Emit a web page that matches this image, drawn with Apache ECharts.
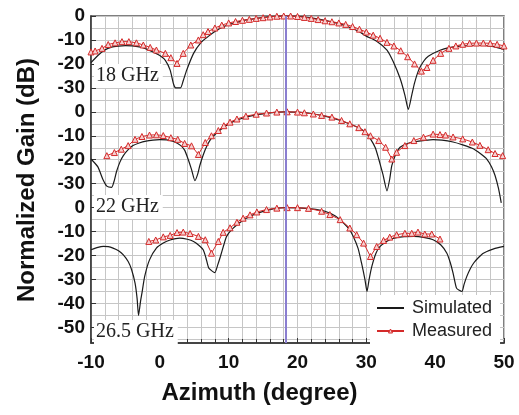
<!DOCTYPE html>
<html>
<head>
<meta charset="utf-8">
<script src="https://cdn.jsdelivr.net/npm/echarts@6/dist/echarts.min.js"></script>
<style>
html,body{margin:0;padding:0;background:#fff;}
#chart{width:519px;height:415px;}
</style>
</head>
<body>
<div id="chart"></div>
<script>
// ---- Data (dB values per panel, azimuth in degrees) ----
const panelNames = ['18 GHz', '22 GHz', '26.5 GHz'];
const panelOffsets = [80, 40, 0]; // vertical stacking offset of each panel

const sim18 = [[-10,-19.5],[-9,-16.5],[-8,-14.2],[-7,-13],[-6,-12.6],[-5,-12.4],[-4,-12.5],[-3,-12.9],[-2,-13.7],[-1,-15],[0,-16.5],[0.8,-18.5],[1.5,-22.6],[2,-28.5],[2.3,-30],[3,-30],[3.4,-27],[3.9,-22.6],[4.9,-15.6],[6,-11],[7,-8.6],[8,-6.5],[9,-4.8],[10,-3.6],[12,-2],[14,-1],[16,-0.3],[18,0],[20,-0.1],[22,-0.8],[24,-1.8],[26,-3.2],[28,-5.2],[29,-6.6],[30,-8.4],[31.5,-10.5],[33,-14.2],[33.9,-19],[34.9,-26],[35.6,-33],[36.1,-39],[36.6,-33],[37,-28],[37.6,-22.6],[38.3,-19],[39,-16.8],[40.7,-14.3],[42,-13.2],[43.6,-12.6],[46,-12.2],[48.5,-12.8],[50,-14]];
const meas18 = [[-10,-15],[-9.4,-14.6],[-8.4,-13.5],[-7.5,-11.9],[-6.5,-11.2],[-5.5,-10.7],[-4.5,-10.7],[-3.4,-11.2],[-2.4,-12.1],[-1.4,-13.1],[-0.5,-14.2],[0.8,-15.6],[1.6,-17.4],[2.5,-19.8],[3.4,-15.6],[4.5,-12.1],[5.6,-10],[6.3,-7.8],[7,-6.5],[8,-5],[9,-3.8],[10,-2.9],[11,-2.3],[12,-1.8],[13,-1.4],[14,-1],[15,-0.7],[16,-0.4],[17,-0.1],[18,0],[19,0],[20,-0.2],[21,-0.6],[22,-1],[23,-1.5],[24,-2],[25,-2.4],[26,-2.9],[27,-3.5],[28,-4.4],[29,-5.5],[30,-6.7],[31,-8],[32,-9.3],[33,-11],[34,-12.5],[35,-14.5],[36,-17],[37,-20],[38,-23],[38.8,-21.5],[39.7,-18.5],[40.8,-15.6],[42,-13.5],[43,-12.5],[44,-11.8],[45,-11.4],[46,-11.3],[47,-11.3],[48,-11.4],[49,-11.8],[50,-12.5]];

const sim22 = [[-10,-19.7],[-9,-23],[-8.3,-28],[-7.7,-31],[-7,-31.5],[-6.6,-28.5],[-6.3,-25],[-5.8,-21],[-5.3,-18.3],[-4.5,-15.5],[-3.9,-14.1],[-3,-13],[-2,-12.2],[-1,-11.8],[0,-11.6],[1,-11.7],[2,-12.4],[3,-14],[3.6,-16],[4.1,-19.7],[4.6,-24],[5.1,-28.7],[5.5,-26],[5.8,-22.5],[6.3,-18],[6.8,-14.5],[7.5,-11],[8.5,-8.2],[9.5,-6],[10.5,-4.3],[12,-2.7],[14,-1.3],[16,-0.4],[18,0],[20,-0.1],[22,-0.7],[24,-1.8],[26,-3.4],[27.5,-5],[29,-6.8],[30,-9],[30.6,-11.3],[31.3,-15],[31.8,-19.7],[32.4,-26],[33,-33],[33.4,-28],[33.7,-22.5],[34.3,-17.5],[34.9,-14.8],[36,-13.2],[37,-12.5],[38.5,-11.9],[39.7,-11.6],[41,-11.8],[42.6,-12.6],[44,-13.8],[45.6,-15.5],[46.6,-17.5],[47.5,-19.7],[48.2,-23],[48.7,-26.6],[49.2,-32],[49.6,-38]];
const meas22 = [[-7.7,-18.3],[-6.6,-17],[-5.6,-15.6],[-4.6,-14.1],[-3.6,-11.5],[-2.6,-10.3],[-1.5,-9.7],[-0.5,-9.6],[0.5,-9.9],[1.6,-10.8],[2.6,-11.5],[3.6,-13.2],[4.6,-14.2],[5.6,-17.8],[6.6,-12.8],[7.5,-10],[8.5,-7.8],[9.3,-5.8],[10.2,-4.3],[11.2,-3],[12.5,-1.8],[14,-1],[15.5,-0.5],[17,-0.1],[18.5,0],[20,-0.1],[21,-0.4],[22.3,-0.9],[23.5,-1.5],[25,-2.2],[26.4,-3.6],[27.6,-5],[28.9,-6.6],[29.8,-8.3],[30.6,-10],[31.8,-12],[32.8,-14.8],[33.7,-19.7],[34.4,-16.9],[35.6,-14.1],[36.9,-12],[38.3,-10.6],[39.7,-9.3],[40.7,-9.5],[41.5,-9.7],[42.6,-10.5],[44,-11.3],[45.4,-12.6],[46.5,-14],[47.7,-15.8],[48.7,-17.4],[49.8,-18.3]];

const sim26 = [[-10,-17.6],[-9,-16.6],[-8.2,-16.2],[-7.5,-16.3],[-6.8,-16.9],[-6,-18],[-5.3,-19.7],[-4.6,-22.5],[-4.1,-25.9],[-3.6,-31.5],[-3.3,-38],[-3.1,-45],[-2.8,-39],[-2.6,-35.7],[-2.2,-28.7],[-1.5,-21.8],[-0.5,-16.9],[0.5,-14.8],[1.5,-13.5],[2.9,-12.7],[4,-13.2],[4.9,-14.1],[5.7,-15.8],[6.3,-17.6],[6.7,-21],[7.1,-25.2],[7.6,-26.5],[8,-27.1],[8.4,-24],[8.8,-20.4],[9.3,-15.5],[9.7,-12],[10.5,-9],[11.5,-6.5],[12.5,-4.5],[14,-2.5],[16,-0.8],[18,0],[20,-0.1],[22,-0.5],[24,-1.5],[25.5,-3.5],[26.7,-6.4],[27.5,-9],[28.1,-12],[28.8,-17],[29.3,-23.1],[29.8,-30],[30.1,-35],[30.4,-30],[30.8,-24.5],[31.4,-19],[32,-16.2],[33,-14],[33.9,-12.8],[35.5,-12.1],[36.9,-12],[38.5,-12.5],[39.7,-13.4],[40.8,-15.5],[41.7,-19],[42.2,-23],[42.6,-27.3],[43.1,-33.6],[43.5,-34.5],[43.9,-35],[44.2,-32],[44.6,-28.7],[45.1,-25.5],[45.6,-23.1],[46.3,-20.8],[47,-19],[48.5,-17.2],[50,-16.2]];
const meas26 = [[-1.6,-14.1],[-0.6,-13.5],[0.5,-12.2],[1.5,-11.6],[2.5,-10.4],[3.4,-10.2],[4.4,-10.8],[5.6,-12],[6.6,-13.4],[7.5,-19],[8.5,-14.1],[9.2,-10.3],[10.2,-8.4],[11.2,-6.1],[12.1,-4.4],[13.1,-3],[14.1,-1.8],[15.5,-0.8],[17,-0.2],[18.5,0],[20,0],[21.6,-0.3],[23.5,-1.5],[24.7,-2.9],[26.2,-5],[27.6,-8.5],[28.6,-11.3],[29.6,-14.8],[30.6,-20.4],[31.5,-16.2],[32.5,-13.7],[33.4,-12.3],[34.4,-11.3],[35.6,-10.7],[36.6,-10.7],[37.5,-10.2],[38.5,-11],[39.5,-11],[40.7,-13.1]];

const beamAzimuth = 18.3;

// Tick values on the stacked axis and their displayed labels
const yTickVals   = [80, 70, 60, 50, 40, 30, 20, 10, 0, -10, -20, -30, -40, -50];
const yTickLabels = ['0','-10','-20','-30','0','-10','-20','-30','0','-10','-20','-30','-40','-50'];
const yGridVals   = [80,75,70,65,60,55,50,45,40,35,30,25,20,15,10,5,0,-5,-10,-15,-20,-25,-30,-35,-40,-45,-50,-55];

const simSets  = [sim18, sim22, sim26];
const measSets = [meas18, meas22, meas26];

function shift(arr, off) { return arr.map(p => [p[0], p[1] + off]); }

const chart = echarts.init(document.getElementById('chart'), null, {renderer: 'canvas'});

const series = [];
simSets.forEach((s, i) => {
  const ser = {
    name: 'Simulated', type: 'line', data: shift(s, panelOffsets[i]),
    symbol: 'none', smooth: 0.2, clip: false,
    lineStyle: {color: '#1a1a1a', width: 1.2}, itemStyle: {color: '#1a1a1a'},
    z: 3
  };
  if (i === 0) {
    ser.markLine = {
      symbol: ['none', 'none'], silent: true, label: {show: false},
      lineStyle: {color: '#8a7ed0', width: 2, type: 'solid'},
      data: [{xAxis: beamAzimuth}]
    };
  }
  series.push(ser);
});
measSets.forEach((s, i) => {
  series.push({
    name: 'Measured', type: 'line', data: shift(s, panelOffsets[i]),
    symbol: 'triangle', symbolSize: 6, clip: false,
    lineStyle: {color: '#d42a2a', width: 1},
    itemStyle: {color: '#f6d0d0', borderColor: '#d42a2a', borderWidth: 1},
    z: 4
  });
});

const labelTops = [76, 207, 332];

chart.setOption({
  animation: false,
  backgroundColor: '#fff',
  grid: {left: 91, right: 15, top: 16, bottom: 72, show: true, borderColor: '#555', borderWidth: 1.5, backgroundColor: 'transparent'},
  xAxis: {
    type: 'value', min: -10, max: 50, interval: 10,
    axisLine: {onZero: false, lineStyle: {color: '#333', width: 1.5}},
    axisTick: {inside: true, length: 5, lineStyle: {color: '#333'}},
    minorTick: {show: true, splitNumber: 5, length: 4, lineStyle: {color: '#333'}},
    splitLine: {show: true, lineStyle: {color: '#c6c6c6', width: 1}},
    minorSplitLine: {show: true, lineStyle: {color: '#c6c6c6', width: 1}},
    axisLabel: {margin: 10, color: '#111', fontSize: 19, fontWeight: 'bold', fontFamily: 'Liberation Sans, Arial'}
  },
  yAxis: [{
    type: 'value', min: -56.5, max: 80,
    axisLine: {show: true, onZero: false, lineStyle: {color: '#333', width: 1.5}},
    axisTick: {show: false, customValues: yGridVals},
    splitLine: {show: true, lineStyle: {color: '#c6c6c6', width: 1}},
    axisLabel: {
      customValues: yTickVals, margin: 6, color: '#111', fontSize: 19, fontWeight: 'bold',
      fontFamily: 'Liberation Sans, Arial',
      formatter: function (v) { const k = yTickVals.indexOf(Math.round(v)); return k >= 0 ? yTickLabels[k] : ''; }
    }
  }, {
    type: 'value', min: -56.5, max: 80, position: 'left',
    axisLine: {show: false, onZero: false},
    axisTick: {show: true, inside: true, length: 5, customValues: yTickVals, lineStyle: {color: '#333'}},
    splitLine: {show: false},
    axisLabel: {show: false}
  }],
  legend: {
    data: [
      {name: 'Simulated', itemStyle: {color: 'rgba(0,0,0,0)', borderColor: 'rgba(0,0,0,0)', borderWidth: 0}},
      {name: 'Measured', itemStyle: {color: '#f6d0d0', borderColor: '#d42a2a', borderWidth: 1}}
    ],
    orient: 'vertical', left: 370, top: 295,
    backgroundColor: '#fff', padding: [4, 8, 4, 6], itemGap: 5,
    itemWidth: 27, itemHeight: 5,
    textStyle: {fontSize: 18, color: '#222', fontFamily: 'Liberation Sans, Arial', padding: [0, 0, 0, 3]}
  },
  graphic: [
    {type: 'text', left: 'center', top: 381, style: {text: 'Azimuth (degree)', font: 'bold 24px "Liberation Sans", Arial', fill: '#111'}},
    {type: 'text', x: 27, y: 180, rotation: Math.PI / 2, style: {text: 'Normalized Gain (dB)', font: 'bold 24px "Liberation Sans", Arial', fill: '#111', textAlign: 'center', textVerticalAlign: 'middle'}},
  ].concat(panelNames.map((n, i) => ({
    type: 'text', x: 94, y: labelTops[i], z: 100,
    style: {text: n, font: '20px "Liberation Serif", "DejaVu Serif", serif', fill: '#222', textVerticalAlign: 'middle', backgroundColor: '#fff', padding: [2, 4, 2, 2]}
  }))),
  series: series
});
</script>
</body>
</html>
